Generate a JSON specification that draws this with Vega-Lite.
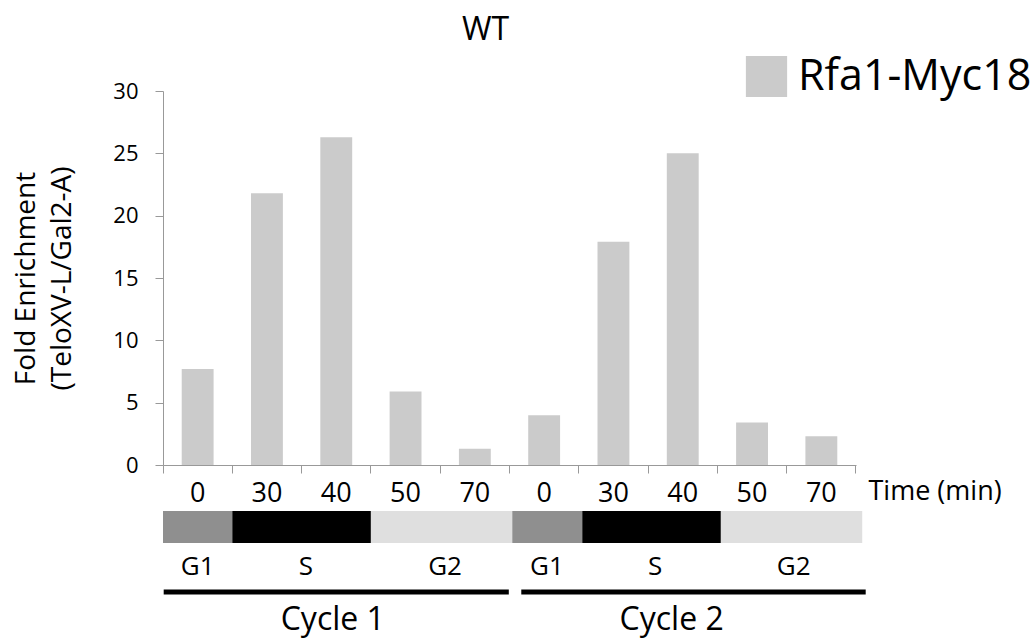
{
  "$schema": "https://vega.github.io/schema/vega-lite/v6.json",
  "padding": {"left": 12, "top": 14, "right": 0, "bottom": 0},
  "background": "white",
  "config": {
    "font": "Open Sans",
    "view": {"stroke": null},
    "axis": {"grid": false, "domainColor": "#999999", "tickColor": "#999999", "labelColor": "#000000", "titleColor": "#000000", "labelFont": "Open Sans", "titleFont": "Open Sans", "titleFontWeight": "normal"}
  },
  "datasets": {
    "bars": [
      {"key": "1-0", "cycle": "Cycle 1", "time": 0, "enrichment": 7.7, "series": "Rfa1-Myc18"},
      {"key": "1-30", "cycle": "Cycle 1", "time": 30, "enrichment": 21.8, "series": "Rfa1-Myc18"},
      {"key": "1-40", "cycle": "Cycle 1", "time": 40, "enrichment": 26.3, "series": "Rfa1-Myc18"},
      {"key": "1-50", "cycle": "Cycle 1", "time": 50, "enrichment": 5.9, "series": "Rfa1-Myc18"},
      {"key": "1-70", "cycle": "Cycle 1", "time": 70, "enrichment": 1.3, "series": "Rfa1-Myc18"},
      {"key": "2-0", "cycle": "Cycle 2", "time": 0, "enrichment": 4.0, "series": "Rfa1-Myc18"},
      {"key": "2-30", "cycle": "Cycle 2", "time": 30, "enrichment": 17.9, "series": "Rfa1-Myc18"},
      {"key": "2-40", "cycle": "Cycle 2", "time": 40, "enrichment": 25.0, "series": "Rfa1-Myc18"},
      {"key": "2-50", "cycle": "Cycle 2", "time": 50, "enrichment": 3.4, "series": "Rfa1-Myc18"},
      {"key": "2-70", "cycle": "Cycle 2", "time": 70, "enrichment": 2.3, "series": "Rfa1-Myc18"}
    ],
    "phases": [
      {"cycle": "Cycle 1", "phase": "G1", "start": 0, "end": 1.0, "labelPos": 0.5},
      {"cycle": "Cycle 1", "phase": "S", "start": 1.0, "end": 3.0, "labelPos": 2.06},
      {"cycle": "Cycle 1", "phase": "G2", "start": 3.0, "end": 5.04, "labelPos": 4.07},
      {"cycle": "Cycle 2", "phase": "G1", "start": 5.04, "end": 6.05, "labelPos": 5.54},
      {"cycle": "Cycle 2", "phase": "S", "start": 6.05, "end": 8.05, "labelPos": 7.1},
      {"cycle": "Cycle 2", "phase": "G2", "start": 8.05, "end": 10.09, "labelPos": 9.1}
    ],
    "cycles": [
      {"cycle": "Cycle 1", "start": 0.01, "end": 4.99, "labelPos": 2.45},
      {"cycle": "Cycle 2", "start": 5.17, "end": 10.14, "labelPos": 7.34}
    ]
  },
  "vconcat": [
    {
      "width": 693,
      "height": 374,
      "title": {"text": "WT", "fontSize": 32, "font": "Open Sans", "fontWeight": "normal", "dx": -24, "offset": 8},
      "data": {"name": "bars"},
      "mark": {"type": "bar", "color": "#cbcbcb", "width": {"band": 0.46}},
      "encoding": {
        "x": {
          "field": "key", "type": "nominal", "sort": null,
          "scale": {"paddingInner": 0, "paddingOuter": 0},
          "axis": {
            "title": "Time (min)", "titleFontSize": 27, "titleX": 705, "titleY": 26, "titleAlign": "left", "titleBaseline": "middle", "titleAngle": 0,
            "labelExpr": "split(datum.value, '-')[1]", "labelAngle": 0, "labelFontSize": 27,
            "labelPadding": 7, "tickSize": 8, "bandPosition": 1, "tickExtra": true, "labelBaseline": "top"
          }
        },
        "y": {
          "field": "enrichment", "type": "quantitative",
          "scale": {"domain": [0, 30]},
          "axis": {
            "title": ["Fold Enrichment", "(TeloXV-L/Gal2-A)"], "titleFontSize": 28, "titleLineHeight": 36, "titlePadding": 36,
            "values": [0, 5, 10, 15, 20, 25, 30], "labelFontSize": 22, "labelPadding": 17, "tickSize": 8
          }
        },
        "color": {
          "field": "series", "type": "nominal",
          "scale": {"range": ["#cbcbcb"]},
          "legend": {"title": null, "orient": "none", "legendX": 582, "legendY": -36, "symbolType": "square", "symbolSize": 1700, "symbolStrokeWidth": 0, "labelFontSize": 43, "labelOffset": 10, "labelLimit": 0}
        }
      }
    },
    {
      "width": 693,
      "height": 128,
      "layer": [
        {
          "data": {"name": "phases"},
          "mark": {"type": "rect", "clip": false},
          "encoding": {
            "x": {"field": "start", "type": "quantitative", "scale": {"domain": [0, 10], "nice": false, "zero": false}, "axis": null},
            "x2": {"field": "end"},
            "y": {"datum": 0, "type": "quantitative", "scale": {"domain": [0, 12.8], "reverse": true, "nice": false}, "axis": null},
            "y2": {"datum": 3.2},
            "color": {"field": "phase", "type": "nominal", "scale": {"domain": ["G1", "S", "G2"], "range": ["#8f8f8f", "#000000", "#dfdfdf"]}, "legend": null}
          }
        },
        {
          "data": {"name": "phases"},
          "mark": {"type": "text", "fontSize": 26, "font": "Open Sans", "color": "#000000", "baseline": "middle", "align": "center"},
          "encoding": {
            "x": {"field": "labelPos", "type": "quantitative"},
            "y": {"datum": 5.6, "type": "quantitative"},
            "text": {"field": "phase"}
          }
        },
        {
          "data": {"name": "cycles"},
          "mark": {"type": "rule", "strokeWidth": 5, "color": "#000000"},
          "encoding": {
            "x": {"field": "start", "type": "quantitative"},
            "x2": {"field": "end"},
            "y": {"datum": 8.1, "type": "quantitative"}
          }
        },
        {
          "data": {"name": "cycles"},
          "mark": {"type": "text", "fontSize": 32, "font": "Open Sans", "color": "#000000", "baseline": "middle", "align": "center"},
          "encoding": {
            "x": {"field": "labelPos", "type": "quantitative"},
            "y": {"datum": 10.9, "type": "quantitative"},
            "text": {"field": "cycle"}
          }
        }
      ]
    }
  ],
  "spacing": 5,
  "resolve": {"scale": {"x": "independent", "color": "independent"}}
}
